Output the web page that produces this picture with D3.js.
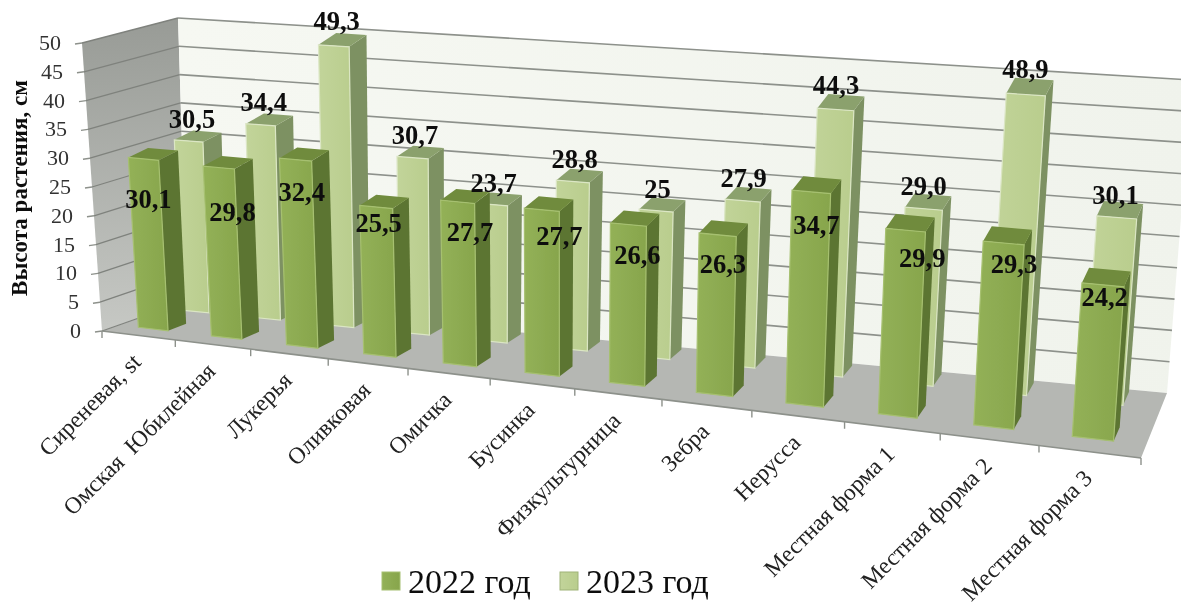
<!DOCTYPE html>
<html><head><meta charset="utf-8">
<script src="https://cdn.jsdelivr.net/npm/d3@7/dist/d3.min.js"></script>
<style>html,body{margin:0;padding:0;background:#fff}svg{display:block}text{font-family:"Liberation Serif",serif;white-space:pre}</style>
</head><body><svg id="c" width="1181" height="605"></svg>
<script>
const categories=["Сиреневая, st","Омская  Юбилейная","Лукерья","Оливковая","Омичка","Бусинка","Физкультурница","Зебра","Нерусса","Местная форма 1","Местная форма 2","Местная форма 3"];
const values2022=[30.1,29.8,32.4,25.5,27.7,27.7,26.6,26.3,34.7,29.9,29.3,24.2];
const values2023=[30.5,34.4,49.3,30.7,23.7,28.8,25,27.9,44.3,29.0,48.9,30.1];
const labels2022=["30,1","29,8","32,4","25,5","27,7","27,7","26,6","26,3","34,7","29,9","29,3","24,2"];
const labels2023=["30,5","34,4","49,3","30,7","23,7","28,8","25","27,9","44,3","29,0","48,9","30,1"];
const yTicks=[0,5,10,15,20,25,30,35,40,45,50];
const seriesNames=["2022 год","2023 год"];
// where the 2022 value labels sit on their bars: value units below the top, category units along the axis
const labelDrop2022=[7.7,8.2,6.3,3.4,5.5,4.8,5.5,5.3,6,4.8,3.9,2.5];
const labelAlong2022=[0.51,0.63,0.54,0.5,0.62,0.68,0.58,0.54,0.54,0.66,0.59,0.5];

const svg=d3.select("#c");
const defs=svg.append("defs");
function blur(id,sd){defs.append("filter").attr("id",id).attr("x","-5%").attr("y","-5%").attr("width","110%").attr("height","110%")
  .append("feGaussianBlur").attr("stdDeviation",sd);}
blur("soft",0.55);blur("softText",0.35);
function grad(id,stops,x2,y2){const g=defs.append("linearGradient").attr("id",id).attr("x1",0).attr("y1",0).attr("x2",x2).attr("y2",y2);
  stops.forEach(s=>g.append("stop").attr("offset",s[0]).attr("stop-color",s[1]));}
grad("leftWall",[[0,"#989b96"],[1,"#c6c8c4"]],0,1);
grad("backWall",[[0,"#f6f8f2"],[1,"#f0f3ec"]],1,0);
grad("front22",[[0,"#93b157"],[1,"#87a54c"]],1,0);
grad("front23",[[0,"#c2d49a"],[1,"#b9cd8d"]],1,0);

// Projection of the 3-D box: category axis, depth (0 front..1 back), value axis
const uScale=d3.scaleLinear().domain([0,categories.length]).range([0,1]);
const vScale=d3.scaleLinear().domain([0,50]).range([0,1]);
const persp=0.835;
const warp=t=>t*persp/(1+t*(persp-1));
const lerp=(a,b,t)=>[a[0]+(b[0]-a[0])*t,a[1]+(b[1]-a[1])*t];
const box={fl:[102,331],fr:[1141,458],bl:[187,301],br:[1167,393],tfl:[82,43],tfr:[1164,128],tbl:[178,18],tbr:[1192,80]};
function P(u,d,v){
  const s=warp(uScale(u)),t=vScale(v);
  const low=lerp(lerp(box.fl,box.fr,s),lerp(box.bl,box.br,s),d);
  const up=lerp(lerp(box.tfl,box.tfr,s),lerp(box.tbl,box.tbr,s),d);
  return lerp(low,up,t);
}
const line=d3.line();
const poly=pts=>line(pts)+"Z";

const chart=svg.append("g").attr("filter","url(#soft)");
const n=categories.length;
chart.append("path").attr("d",poly([P(0,0,0),P(0,1,0),P(0,1,50),P(0,0,50)])).attr("fill","url(#leftWall)");
chart.append("path").attr("d",poly([P(0,1,0),P(n,1,0),P(n,1,50),P(0,1,50)])).attr("fill","url(#backWall)");
chart.append("path").attr("d",poly([P(0,0,0),P(n,0,0),P(n,1,0),P(0,1,0)])).attr("fill","#b5b7b3");
yTicks.forEach(v=>{
  if(v>0) chart.append("path").attr("d",line([P(0,1,v),P(n,1,v)])).attr("stroke","#8d918b").attr("stroke-width",1.6).attr("fill","none");
  chart.append("path").attr("d",line([P(0,0,v),P(0,1,v)])).attr("stroke","#7f827d").attr("stroke-width",1.3).attr("fill","none");
  const p=P(0,0,v);
  chart.append("path").attr("d",line([[p[0]-7,p[1]+1],p])).attr("stroke","#8d918b").attr("stroke-width",1.4);
});
chart.append("path").attr("d",line([P(0,0,0),P(n,0,0)])).attr("stroke","#8d918b").attr("stroke-width",1.6);
d3.range(n+1).forEach(i=>{const p=P(i,0,0);chart.append("path").attr("d",line([p,[p[0],p[1]+7]])).attr("stroke","#8d918b").attr("stroke-width",1.4);});

const frontTilt=0.98; // front edge of a bar top sits a little lower than its back edge
function bar(i,val,u0,u1,d0,d1,front,side,top,edge){
  const a=i+u0,b=i+u1,g=chart.append("g"),vf=val*frontTilt;
  g.append("path").attr("d",poly([P(b,d0,0),P(b,d1,0),P(b,d1,val),P(b,d0,vf)])).attr("fill",side);
  g.append("path").attr("d",poly([P(a,d0,vf),P(b,d0,vf),P(b,d1,val),P(a,d1,val)])).attr("fill",top);
  g.append("path").attr("d",poly([P(a,d0,0),P(b,d0,0),P(b,d0,vf),P(a,d0,vf)])).attr("fill",front).attr("stroke",edge).attr("stroke-width",1.2);
}
values2023.forEach((v,i)=>bar(i,v,0.22,0.62,0.75,0.96,"url(#front23)","#7d9162","#8ba16d","#dbe6c4"));
values2022.forEach((v,i)=>bar(i,v,0.27,0.68,0.2,0.42,"url(#front22)","#5c7431","#6f8b3c","#a6c070"));

const texts=svg.append("g").attr("filter","url(#softText)");
const boldLabel=(x,y,t)=>texts.append("text").attr("x",x).attr("y",y).attr("text-anchor","middle").attr("font-size",26.5).attr("font-weight","bold").attr("fill","#0c0c0c").text(t);
values2023.forEach((v,i)=>{const p=P(i+0.47-0.07*uScale(i),0.75,v);boldLabel(p[0],p[1]-10,labels2023[i]);});
values2022.forEach((v,i)=>{const p=P(i+labelAlong2022[i],0.2,v-labelDrop2022[i]);boldLabel(p[0],p[1]+8,labels2022[i]);});
yTicks.forEach(v=>{const p=P(0,0,v);
  texts.append("text").attr("x",p[0]-21).attr("y",p[1]+7).attr("text-anchor","end").attr("font-size",22).attr("fill","#333").text(v);});
texts.append("text").attr("transform","translate(27,188) rotate(-90)").attr("text-anchor","middle").attr("font-size",23).attr("font-weight","bold").attr("fill","#111").text("Высота растения, см");
categories.forEach((c,i)=>{const p=P(i+0.5,0,0);
  texts.append("text").attr("transform",`translate(${p[0]+4},${p[1]+28}) rotate(-45)`).attr("text-anchor","end").attr("font-size",23.5).attr("fill","#222").text(c);});
const legendX=[382,560];
seriesNames.forEach((s,i)=>{
  texts.append("rect").attr("x",legendX[i]).attr("y",572).attr("width",18).attr("height",18).attr("fill",i?"url(#front23)":"url(#front22)").attr("stroke",i?"#9fb378":"#a6c070");
  texts.append("text").attr("x",legendX[i]+26).attr("y",593).attr("font-size",34).attr("fill","#111").text(s);
});
</script></body></html>
